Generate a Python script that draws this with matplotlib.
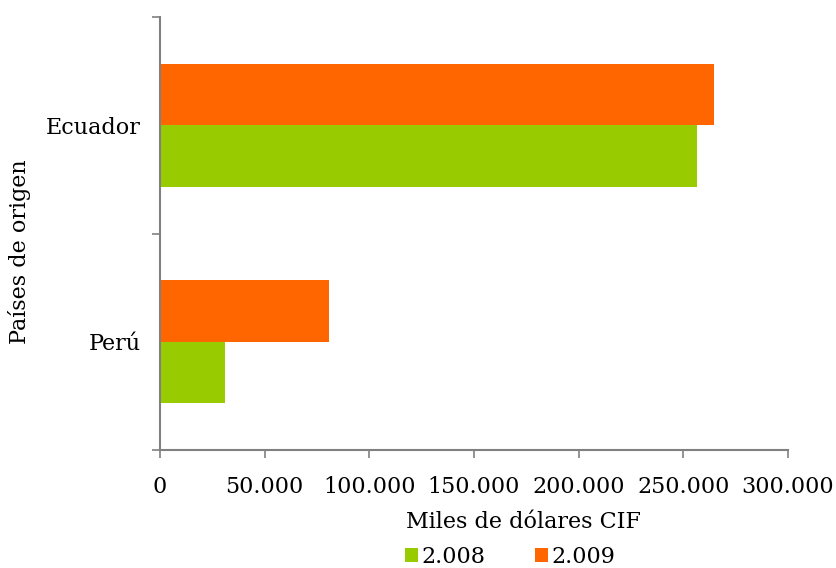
import matplotlib
matplotlib.use("Agg")
import matplotlib.pyplot as plt
from matplotlib.ticker import FuncFormatter, FixedLocator

# Import values by country of origin (thousands of US dollars CIF)
paises = ["Perú", "Ecuador"]
anios = ["2.008", "2.009"]
valores_2008 = [31000, 256500]
valores_2009 = [80500, 264500]
colores = ["#99CC00", "#FF6600"]
ticks_x = [0, 50000, 100000, 150000, 200000, 250000, 300000]

plt.rcParams["font.family"] = ["DejaVu Serif"]

fig = plt.figure(figsize=(8.37, 5.68), dpi=100)
ax = fig.add_axes([160 / 837, 1 - 450 / 568, 628 / 837, 433 / 568])

alto = 0.283
pos = list(range(len(paises)))
ax.barh([p - alto / 2 for p in pos], valores_2008, height=alto, color=colores[0], label=anios[0])
ax.barh([p + alto / 2 for p in pos], valores_2009, height=alto, color=colores[1], label=anios[1])

ax.set_xlim(0, 300000)
ax.set_ylim(-0.5, len(paises) - 0.5)

ax.xaxis.set_major_locator(FixedLocator(ticks_x))
ax.xaxis.set_major_formatter(FuncFormatter(lambda v, _: f"{int(v):,}".replace(",", ".")))
ax.tick_params(axis="x", direction="out", length=6, width=1.2, color="#808080",
               pad=13, labelsize=16)

ax.set_yticks(pos)
ax.set_yticklabels(paises)
ax.set_yticks([-0.5, 0.5, 1.5], minor=True)
ax.tick_params(axis="y", which="major", length=0, pad=14, labelsize=16)
ax.tick_params(axis="y", which="minor", direction="out", length=6, width=1.2, color="#808080")

for lado in ["top", "right"]:
    ax.spines[lado].set_visible(False)
for lado in ["left", "bottom"]:
    ax.spines[lado].set_color("#808080")
    ax.spines[lado].set_linewidth(1.5)

fig.text(523 / 837, 1 - 522 / 568, "Miles de dólares CIF", ha="center", va="center", fontsize=16)
fig.text(20 / 837, 1 - 252 / 568, "Países de origen", ha="center", va="center",
         rotation=90, fontsize=16)

fig.legend(loc="center", bbox_to_anchor=(510 / 837, 1 - 557 / 568), ncol=2, frameon=False,
           fontsize=16, handlelength=0.6, handleheight=0.6, handletextpad=0.15,
           columnspacing=2.2, borderpad=0)

fig.savefig("out.png", dpi=100)
